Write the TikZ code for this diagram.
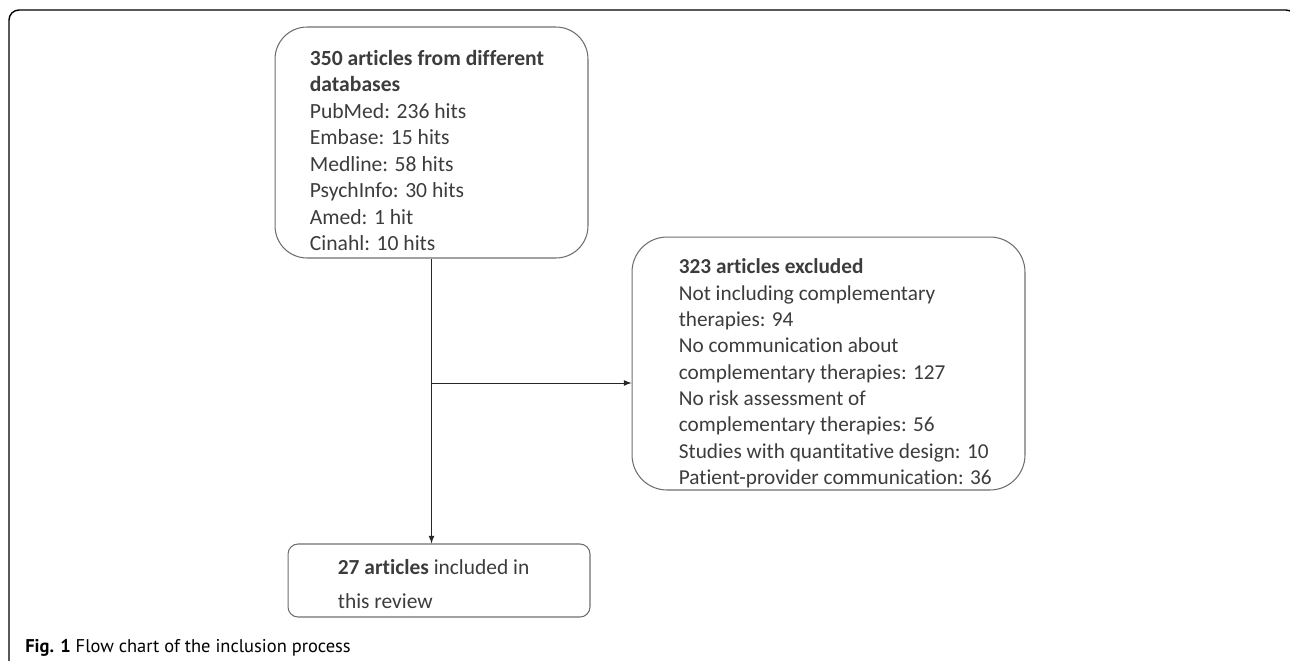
\documentclass[tikz,border=0pt]{standalone}
\usepackage{fontspec}
\setmainfont{Carlito}[Ligatures=NoCommon]
\newfontfamily\capfont{PT Sans}
\usetikzlibrary{arrows,positioning}
\definecolor{boxgray}{HTML}{6E6E6E}
\definecolor{txtgray}{HTML}{3C3C3C}
\tikzset{
	frame/.style={draw=boxgray, line width=0.6pt},
	entry/.style={inner sep=0pt, align=left, text=txtgray, font=\fontsize{12.3}{15.1}\selectfont},
	link/.style={draw=black!85, line width=0.5pt, -latex}
}

\begin{document}
\begin{tikzpicture}[x=0.02cm, y=-0.02cm]
	\useasboundingbox (0,0) rectangle (1290,660);
	% outer frame
	\draw[black, line width=0.8pt, rounded corners=0.2cm] (9,670) -- (9,10) -- (1296,10) -- (1296,40);

	% boxes
	\node[frame, rounded corners=0.64cm, minimum width=6.26cm, minimum height=4.62cm] (src) at (431.5,142.5) {};
	\node[entry, anchor=north west] (srctext) at ([shift={(35,23)}]src.north west) {\textbf{350 articles from different}\\ \textbf{databases}\\ PubMed: 236 hits\\ Embase: 15 hits\\ Medline: 58 hits\\ PsychInfo: 30 hits\\ Amed: 1 hit\\ Cinahl: 10 hits};

	\node[frame, rounded corners=0.7cm, minimum width=7.86cm, minimum height=5.06cm] (excl) at (828.5,363.5) {};
	\node[entry, anchor=north west, font=\fontsize{12.1}{15}\selectfont] (excltext) at ([shift={(47,22)}]excl.north west) {\textbf{323 articles excluded}\\ Not including complementary\\ therapies: 94\\ No communication about\\ complementary therapies: 127\\ No risk assessment of\\ complementary therapies: 56\\ Studies with quantitative design: 10\\ Patient-provider communication: 36};

	\node[frame, rounded corners=0.2cm, minimum width=6.04cm, minimum height=1.46cm] (incl) at (439,580.5) {};
	\node[entry, anchor=north west, font=\fontsize{12.2}{19.3}\selectfont] (incltext) at ([shift={(50,16)}]incl.north west) {\textbf{27 articles} included in\\ this review};

	% arrows
	\draw[link] (src.south) -- (src.south |- incl.north);
	\coordinate (branch) at (src.south |- 0,383);
	\draw[link] (branch) -- (branch -| excl.west);

	\node[anchor=base west, inner sep=0pt, text=black, font=\capfont\fontsize{10.5}{12}\selectfont] (caption) at (25,652) {\textbf{Fig. 1} Flow chart of the inclusion process};
\end{tikzpicture}
\end{document}
